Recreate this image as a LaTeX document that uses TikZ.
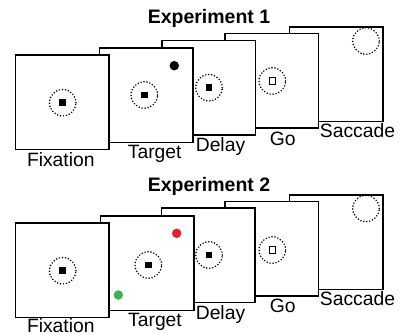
\documentclass[tikz,border=0pt]{standalone}
\usepackage{fontspec}
\setmainfont{Liberation Sans}
\definecolor{tred}{HTML}{E8202A}
\definecolor{tgreen}{HTML}{3DB54A}
\begin{document}
\begin{tikzpicture}[x=1pt,y=-1pt,
 panel/.style={draw, line width=1.5pt, fill=white, minimum width=93.5pt, minimum height=94.5pt, inner sep=0pt, outer sep=0pt},
 fixring/.style={circle, draw, line width=1.7pt, dash pattern=on 0pt off 3pt, line cap=round, minimum size=26.5pt, inner sep=0pt},
 fixsq/.style={fill=black, minimum size=6.5pt, inner sep=0pt},
 gosq/.style={draw, line width=1.1pt, fill=white, minimum size=6.5pt, inner sep=0pt},
 tgt/.style={circle, fill=#1, minimum size=9.5pt, inner sep=0pt},
 lab/.style={font=\fontsize{19.3}{22}\selectfont, anchor=base, inner sep=0pt},
 ttl/.style={font=\bfseries\fontsize{19.5}{22}\selectfont, anchor=base, inner sep=0pt}]
\useasboundingbox (0,0) rectangle (400,335);
\fill[white] (0,0) rectangle (400,335);

% ---------------- Experiment 1 ----------------
\node[ttl] (t1) at (209,23) {Experiment 1};
\node[panel] (sac1) at (336,74.2) {};
\node[fixring] (sacring1) at (366,41) {};
\node[panel] (go1) at (271.7,80.5) {};
\node[fixring] (goring1) at (272.3,81) {};
\node[gosq] (gosq1) at (goring1) {};
\node[panel] (del1) at (208.7,87.8) {};
\node[fixring] (delring1) at (209,87.7) {};
\node[fixsq] (delsq1) at (delring1) {};
\node[panel] (tar1) at (146,95.3) {};
\node[fixring] (tarring1) at (144.3,95) {};
\node[fixsq] (tarsq1) at (tarring1) {};
\node[tgt=black] (tdot1) at (174.3,65.7) {};
\node[panel] (fix1) at (62,102.3) {};
\node[fixring] (fixring1) at (62.7,102.7) {};
\node[fixsq] (fixsq1) at (fixring1) {};
\node[lab] (lfix1) at (60.8,166) {Fixation};
\node[lab] (ltar1) at (154.7,158.3) {Target};
\node[lab] (ldel1) at (220.5,151.7) {Delay};
\node[lab] (lgo1) at (282.7,145.7) {Go};
\node[lab] (lsac1) at (357.5,137.3) {Saccade};

% ---------------- Experiment 2 ----------------
\node[ttl] (t2) at (209,191) {Experiment 2};
\node[panel] (sac2) at (336,242) {};
\node[fixring] (sacring2) at (366,208.5) {};
\node[panel] (go2) at (271.7,248.7) {};
\node[fixring] (goring2) at (272.3,250) {};
\node[gosq] (gosq2) at (goring2) {};
\node[panel] (del2) at (208.3,255) {};
\node[fixring] (delring2) at (209,255) {};
\node[fixsq] (delsq2) at (delring2) {};
\node[panel] (tar2) at (147.3,263.3) {};
\node[fixring] (tarring2) at (148.3,265) {};
\node[fixsq] (tarsq2) at (tarring2) {};
\node[tgt=tred] (rdot2) at (176.7,233.3) {};
\node[tgt=tgreen] (gdot2) at (118.3,295) {};
\node[panel] (fix2) at (62,270) {};
\node[fixring] (fixring2) at (62.7,270.7) {};
\node[fixsq] (fixsq2) at (fixring2) {};
\node[lab] (lfix2) at (60.8,332) {Fixation};
\node[lab] (ltar2) at (155,326.5) {Target};
\node[lab] (ldel2) at (220.5,319) {Delay};
\node[lab] (lgo2) at (282.7,312) {Go};
\node[lab] (lsac2) at (357.5,305) {Saccade};
\end{tikzpicture}
\end{document}
